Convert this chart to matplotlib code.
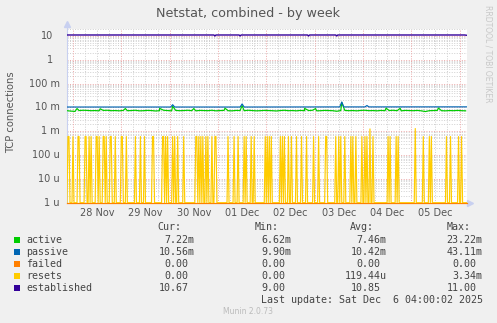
import numpy as np
import matplotlib
matplotlib.use("Agg")
import matplotlib.pyplot as plt
from matplotlib.patches import Rectangle
from matplotlib.transforms import blended_transform_factory

# ---------------- data (hours relative to 28 Nov 00:00) ----------------
day_labels = ["28 Nov", "29 Nov", "30 Nov", "01 Dec", "02 Dec", "03 Dec", "04 Dec", "05 Dec"]
ytick_vals = [10, 1, 0.1, 0.01, 0.001, 1e-4, 1e-5, 1e-6]
ytick_labels = ["10", "1", "100 m", "10 m", "1 m", "100 u", "10 u", "1 u"]

# active: 2-hourly baseline samples (x 1e-3) starting at -3 h
active_base = [7.3, 7.0, 6.8, 7.4, 7.6, 7.5, 7.3, 7.4, 7.2, 7.5, 7.6, 7.3, 7.4, 7.2, 7.5, 7.3, 7.4, 7.6, 7.2, 7.3,
               7.5, 7.4, 7.1, 7.3, 7.6, 7.4, 7.2, 7.5, 7.3, 7.4, 7.6, 7.3, 7.2, 7.5, 7.4, 7.3, 7.6, 7.2, 7.4, 7.5,
               7.3, 7.2, 7.5, 7.4, 7.3, 7.6, 7.4, 7.2, 7.3, 7.5, 7.4, 7.3, 7.1, 7.4, 7.6, 7.3, 7.4, 7.2, 7.5, 7.3,
               7.4, 7.6, 7.2, 7.3, 7.5, 7.4, 7.3, 6.9, 7.4, 7.5, 7.3, 7.4, 7.2, 7.5, 7.6, 7.3, 7.4, 7.2, 7.5, 7.3,
               7.4, 7.6, 7.3, 7.2, 7.5, 7.4, 7.3, 7.5, 7.2, 6.7, 7.3, 7.4, 7.5, 7.3, 7.2, 7.4, 7.3, 7.5, 7.3, 7.2]
active_spike_t = [2, 13.5, 26, 43, 49.5, 60, 75.5, 84, 115, 120.5, 133.5, 155.5, 162.5, 181.5]
active_spike_v = [9.0, 8.8, 9.0, 9.2, 11.3, 9.0, 9.3, 12.0, 9.2, 9.0, 16.0, 9.4, 9.2, 9.5]

passive_t = [-3, 48.5, 49.5, 50.5, 83, 84, 85, 132.5, 133.5, 134.5, 145, 146, 147, 195.7]
passive_v = [10.4, 10.4, 13.0, 10.4, 10.4, 14.0, 10.4, 10.5, 17.0, 10.5, 10.5, 12.0, 10.5, 10.56]

established_t = [-3, 70, 70.5, 71, 82.5, 83, 83.5, 116.5, 117, 117.5, 130.5, 131, 131.5, 194.5, 195.7]
established_v = [11, 11, 10, 11, 11, 10, 11, 11, 10, 11, 11, 10, 11, 11, 10.67]

failed_t = [-3, 195.7]
failed_v = [0.0, 0.0]

resets_t = [-2.5, -2, 0, 2.5, 3, 6, 6.5, 8, 9, 11.5, 12, 13, 15, 15.5, 16.5, 18.5, 19, 21, 24, 24.5, 26.5,
            31, 33.5, 35.5, 39.5, 40, 44.5, 45, 46, 47, 49.5, 50.5, 52, 55, 61, 61.5, 62.5, 63.5, 64.5, 66,
            67, 69, 70.5, 71, 77, 80, 82, 85, 86, 88.5, 90, 95.5, 96.5, 97.5, 98.5, 103, 104, 105, 107, 108.5,
            111, 113.5, 116, 119.5, 122, 125.5, 126, 130.5, 132, 133, 135, 138, 139, 140.5, 143.5, 145, 146,
            147.5, 149, 156.5, 157.5, 160.5, 161.5, 170, 174, 177, 178, 185.5, 187.5, 191.5, 193]
resets_big = {147.5: 1.25e-3, 170: 1.3e-3}

legend_names = ["active", "passive", "failed", "resets", "established"]
colors = ["#00CC00", "#0066B3", "#FF8000", "#FFCC00", "#330099"]
cur = ["7.22m", "10.56m", "0.00", "0.00", "10.67"]
mins = ["6.62m", "9.90m", "0.00", "0.00", "9.00"]
avgs = ["7.46m", "10.42m", "0.00", "119.44u", "10.85"]
maxs = ["23.22m", "43.11m", "0.00", "3.34m", "11.00"]

# ---------------- figure ----------------
W, H = 497, 323
fig = plt.figure(figsize=(W / 100, H / 100), dpi=100, facecolor="#F0F0F0")

def fx(px):
    return px / W

def fy(py):
    return 1 - py / H

X0, X1, YT, YB = 67, 467, 28.5, 202.7
ax = fig.add_axes([fx(X0), fy(YB), (X1 - X0) / W, (YB - YT) / H])
ax.set_facecolor("white")
ax.set_yscale("log")
YMIN, YMAX = 1e-6, 20.6
TMIN, TMAX = -2.98, 195.7
ax.set_ylim(YMIN, YMAX)
ax.set_xlim(TMIN, TMAX)

dot = (0, (1, 1.6))
gray = "#CFCFCF"
red = "#EDA8A8"
# horizontal grid
for d in range(-6, 2):
    for m in range(2, 10):
        ax.axhline(m * 10.0 ** d, color=gray, lw=0.7, ls=dot, zorder=1)
for v in ytick_vals:
    ax.axhline(v, color=red, lw=0.7, ls=dot, zorder=1.5)
# vertical grid
for h in range(0, 200, 6):
    if h % 24 == 0:
        ax.axvline(h, color=red, lw=0.7, ls=dot, zorder=1.5)
    else:
        ax.axvline(h, color=gray, lw=0.7, ls=dot, zorder=1)

lw = 0.85
# active
t_active = list(-3 + 2 * np.arange(len(active_base)))
pts = sorted(list(zip(t_active, [v * 1e-3 for v in active_base])) +
             list(zip(active_spike_t, [v * 1e-3 for v in active_spike_v])))
ax.plot([p[0] for p in pts], [p[1] for p in pts], color=colors[0], lw=lw, zorder=3)
# passive
ax.plot(passive_t, [v * 1e-3 for v in passive_v], color=colors[1], lw=lw, zorder=3)
# failed (zero -> clamped to bottom)
ax.plot(failed_t, np.maximum(failed_v, YMIN), color=colors[2], lw=lw, zorder=3, clip_on=False)
# resets
slots = np.arange(-3.0, 196.0, 0.5)
rv = np.zeros_like(slots)
for t in resets_t:
    i = int(round((t + 3.0) / 0.5))
    rv[i] = resets_big.get(t, 0.6e-3)
ax.plot(slots, np.maximum(rv, YMIN), color=colors[3], lw=lw, zorder=3)
# established
ax.plot(established_t, established_v, color=colors[4], lw=1.0, zorder=4)

for s in ["top", "right"]:
    ax.spines[s].set_visible(False)
ax.spines["left"].set_color("#C8D0F0")
ax.spines["bottom"].set_color("#E8B8B0")
ax.spines["left"].set_linewidth(0.8)
ax.spines["bottom"].set_linewidth(0.8)
ax.set_xticks([])
ax.set_yticks([])
ax.minorticks_off()
ax.plot([0], [1.025], marker="^", color="#C8D0F0", ms=4, transform=ax.transAxes, clip_on=False)
ax.plot([1.008], [0], marker=">", color="#C8D0F0", ms=4, transform=ax.transAxes, clip_on=False)

lab_col = "#555555"
tr = blended_transform_factory(fig.transFigure, ax.transData)
for v, lab in zip(ytick_vals, ytick_labels):
    xr = 60 if lab.endswith(("m", "u")) else 53.5
    fig.text(fx(xr), v, lab, transform=tr, ha="right", va="center", fontsize=7, color=lab_col)
trx = blended_transform_factory(ax.transData, fig.transFigure)
for k, lab in enumerate(day_labels):
    fig.text(24 * k + 12, fy(213), lab, transform=trx, ha="center", va="center", fontsize=7, color=lab_col)

fig.text(0.5, fy(14), "Netstat, combined - by week", ha="center", va="center", fontsize=9.2, color="#555555")
fig.text(fx(11), fy(112), "TCP connections", rotation=90, ha="center", va="center", fontsize=7.2, color=lab_col)
fig.text(fx(488), fy(5), "RRDTOOL / TOBI OETIKER", rotation=270, ha="center", va="top", fontsize=5.5, color="#C8C8C8")

mono = "DejaVu Sans Mono"
fs = 7.2
tc = "#444444"
edges = [194.3, 291, 386.7, 482.7]
for hdr, e in zip(["Cur:", "Min:", "Avg:", "Max:"], edges):
    fig.text(fx(e - 12.5), fy(227.5), hdr, ha="right", va="center", family=mono, fontsize=fs, color=tc)
rows_y = [240, 252, 264, 276, 288]
for i, name in enumerate(legend_names):
    y = rows_y[i]
    fig.patches.append(Rectangle((fx(14.3), fy(y + 3)), 5.8 / W, 6 / H, transform=fig.transFigure,
                                 facecolor=colors[i], edgecolor="none"))
    fig.text(fx(26.5), fy(y), name, ha="left", va="center", family=mono, fontsize=fs, color=tc)
    for col, e in zip([cur, mins, avgs, maxs], edges):
        s = col[i]
        xr = e if s[-1] in "mu" else e - 6
        fig.text(fx(xr), fy(y), s, ha="right", va="center", family=mono, fontsize=fs, color=tc)
fig.text(fx(482.7), fy(300), "Last update: Sat Dec  6 04:00:02 2025", ha="right", va="center",
         family=mono, fontsize=fs, color=tc)
fig.text(fx(248), fy(312), "Munin 2.0.73", ha="center", va="center", fontsize=5.5, color="#BBBBBB")

fig.savefig("out.png", dpi=100, facecolor=fig.get_facecolor())
